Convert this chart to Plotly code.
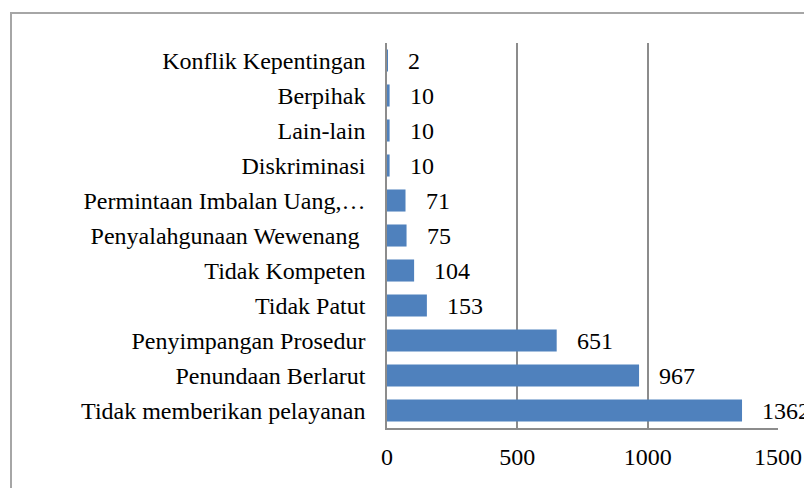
import plotly.graph_objects as go

categories = [
    "Tidak memberikan pelayanan",
    "Penundaan Berlarut",
    "Penyimpangan Prosedur",
    "Tidak Patut",
    "Tidak Kompeten",
    "Penyalahgunaan Wewenang\u00a0",
    "Permintaan Imbalan Uang,\u2026",
    "Diskriminasi",
    "Lain-lain",
    "Berpihak",
    "Konflik Kepentingan",
]
values = [1362, 967, 651, 153, 104, 75, 71, 10, 10, 10, 2]
x_ticks = [0, 500, 1000, 1500]

FONT = "Liberation Serif"
FS = 24
W, H = 804, 488
L, R, T, B = 387, 26, 43, 60

fig = go.Figure(
    go.Bar(
        x=values,
        y=categories,
        orientation="h",
        marker=dict(color="#4F81BD", line=dict(width=0)),
        hoverinfo="x+y",
    )
)

for c, v in zip(categories, values):
    fig.add_annotation(
        x=v, y=c, xref="x", yref="y", text=str(v), showarrow=False,
        xanchor="left", yanchor="middle", xshift=18,
        font=dict(family=FONT, size=FS, color="#000000"),
    )

pw = W - L - R
ph = H - T - B
# outer frame of the chart
fig.add_shape(
    type="rect", xref="paper", yref="paper",
    x0=(11 - L) / pw, x1=(W + 10 - L) / pw,
    y0=(H - B - (H + 10)) / ph, y1=(H - B - 13) / ph,
    line=dict(color="#a6a6a6", width=2), fillcolor="rgba(0,0,0,0)",
    layer="below",
)

fig.update_layout(
    width=W, height=H,
    margin=dict(l=L, r=R, t=T, b=B, pad=0, autoexpand=False),
    paper_bgcolor="white", plot_bgcolor="white",
    bargap=0.37,
    showlegend=False,
    font=dict(family=FONT, size=FS, color="#000000"),
    xaxis=dict(
        range=[0, 1500], tickvals=x_ticks, ticktext=[str(t) for t in x_ticks],
        showgrid=True, gridcolor="#8c8c8c", gridwidth=1.5,
        showline=True, linecolor="#8c8c8c", linewidth=1.5,
        zeroline=False, ticks="outside", ticklen=6, tickcolor="rgba(0,0,0,0)",
        tickfont=dict(family=FONT, size=FS, color="#000000"),
        fixedrange=True, automargin=False,
    ),
    yaxis=dict(
        type="category", categoryorder="array", categoryarray=categories,
        showgrid=False, showline=True, linecolor="#8c8c8c", linewidth=1.5,
        ticks="outside", ticklen=15, tickcolor="rgba(0,0,0,0)",
        tickfont=dict(family=FONT, size=FS, color="#000000"),
        fixedrange=True, automargin=False,
    ),
)

fig.write_html("out.html", config={"displayModeBar": False},
               post_script="document.body.style.margin='0';")
